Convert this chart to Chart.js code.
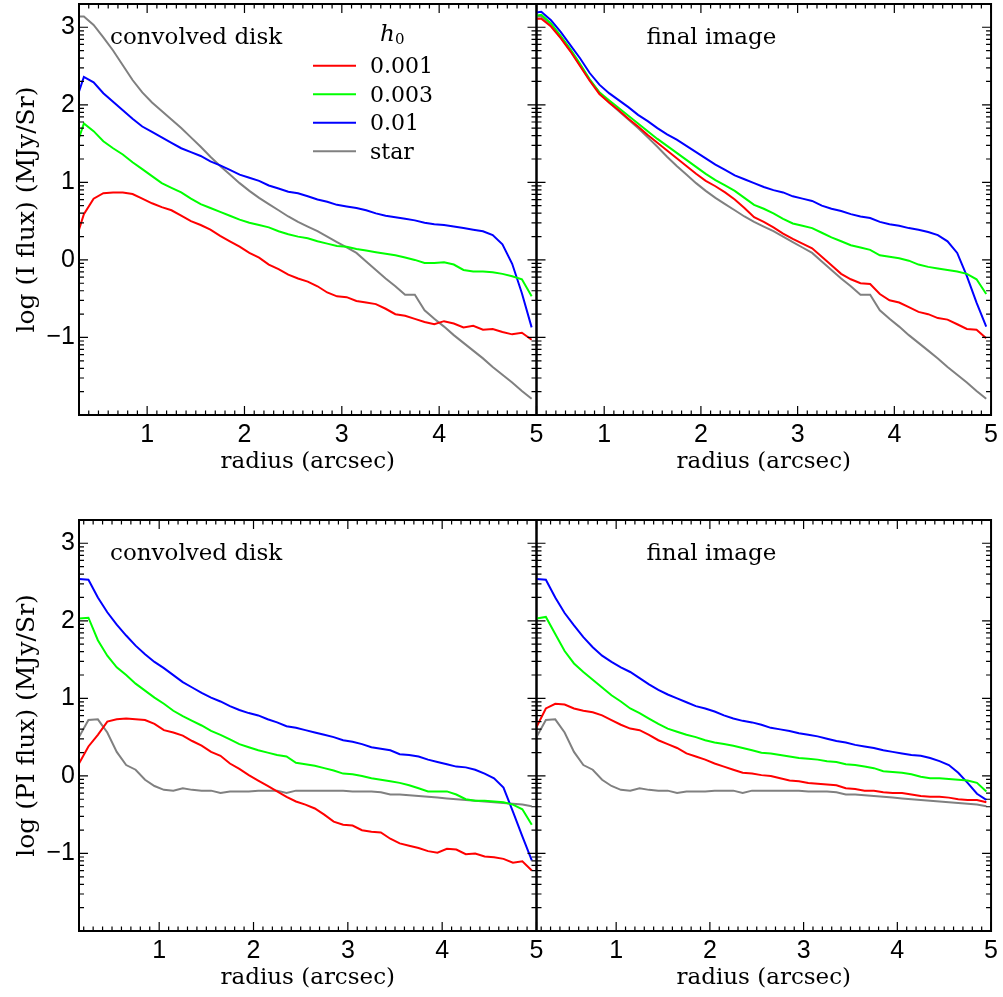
<!DOCTYPE html>
<html>
<head>
<meta charset="utf-8">
<script src="https://cdn.jsdelivr.net/npm/chart.js"></script>
<style>
  body { margin: 0; background: #fff; }
  #wrap { position: relative; width: 1003px; height: 997px; background: #fff; }
  canvas { position: absolute; }
</style>
</head>
<body>
<div id="wrap">
  <canvas id="tl" width="570" height="476" style="left:0px;top:0px"></canvas>
  <canvas id="bl" width="570" height="476" style="left:0px;top:516px"></canvas>
  <canvas id="tr" width="503" height="476" style="left:500px;top:0px"></canvas>
  <canvas id="br" width="503" height="476" style="left:500px;top:516px"></canvas>
</div>
<script>
// radius grids (arcsec)
const radiusTop = [0.25,0.35,0.45,0.55,0.65,0.75,0.85,0.95,1.05,1.15,1.25,1.35,1.45,1.55,1.65,1.75,1.85,1.95,2.05,2.15,
  2.25,2.35,2.45,2.55,2.65,2.75,2.85,2.95,3.05,3.15,3.25,3.35,3.45,3.55,3.65,3.75,3.85,3.95,4.05,4.15,
  4.25,4.35,4.45,4.55,4.65,4.75,4.85,4.95];
const radiusBottom = [0.15,0.25,0.35,0.45,0.55,0.65,0.75,0.85,0.95,1.05,1.15,1.25,1.35,1.45,1.55,1.65,1.75,1.85,1.95,2.05,
  2.15,2.25,2.35,2.45,2.55,2.65,2.75,2.85,2.95,3.05,3.15,3.25,3.35,3.45,3.55,3.65,3.75,3.85,3.95,4.05,
  4.15,4.25,4.35,4.45,4.55,4.65,4.75,4.85,4.95];

const seriesLabels = ['0.001', '0.003', '0.01', 'star'];
const seriesColors = ['#ff0000', '#00ff00', '#0000ff', '#808080'];

// log I flux, convolved disk
const iConv001 = [0.19,0.59,0.79,0.86,0.87,0.87,0.85,0.79,0.73,0.68,0.64,0.57,0.50,0.45,0.39,0.31,0.24,0.17,0.09,0.03,
  -0.06,-0.12,-0.19,-0.24,-0.28,-0.34,-0.42,-0.47,-0.48,-0.53,-0.55,-0.57,-0.63,-0.70,-0.72,-0.76,-0.80,-0.83,-0.79,-0.82,
  -0.87,-0.85,-0.90,-0.89,-0.93,-0.96,-0.94,-1.03];
const iConv003 = [1.38,1.76,1.66,1.53,1.44,1.36,1.26,1.17,1.08,0.99,0.93,0.87,0.79,0.72,0.67,0.62,0.57,0.52,0.48,0.45,
  0.42,0.37,0.33,0.30,0.28,0.24,0.21,0.18,0.17,0.14,0.12,0.10,0.08,0.06,0.03,0.00,-0.04,-0.04,-0.03,-0.06,
  -0.13,-0.15,-0.15,-0.16,-0.18,-0.21,-0.25,-0.47];
const iConv01 = [1.98,2.36,2.29,2.15,2.04,1.93,1.82,1.72,1.65,1.58,1.51,1.44,1.39,1.34,1.27,1.22,1.16,1.10,1.06,1.02,
  0.96,0.92,0.88,0.86,0.82,0.78,0.75,0.71,0.69,0.67,0.64,0.60,0.57,0.55,0.53,0.51,0.48,0.46,0.45,0.43,
  0.41,0.39,0.37,0.32,0.20,-0.05,-0.43,-0.87];
const iStar = [3.14,3.14,3.03,2.87,2.70,2.51,2.32,2.16,2.03,1.92,1.81,1.70,1.58,1.46,1.33,1.21,1.10,0.99,0.89,0.80,
  0.72,0.64,0.56,0.49,0.43,0.37,0.30,0.23,0.16,0.09,-0.02,-0.13,-0.24,-0.34,-0.45,-0.45,-0.65,-0.76,-0.86,-0.97,
  -1.07,-1.17,-1.27,-1.38,-1.48,-1.58,-1.69,-1.79];

// log I flux, final image
const iFinal001 = [3.11,3.11,3.01,2.86,2.69,2.50,2.31,2.14,2.03,1.93,1.82,1.72,1.61,1.51,1.41,1.31,1.21,1.11,1.02,0.95,
  0.87,0.78,0.67,0.55,0.49,0.42,0.34,0.27,0.21,0.15,0.04,-0.07,-0.18,-0.25,-0.30,-0.31,-0.44,-0.52,-0.55,-0.61,
  -0.67,-0.70,-0.75,-0.77,-0.83,-0.89,-0.90,-1.01];
const iFinal003 = [3.14,3.16,3.05,2.89,2.72,2.53,2.33,2.16,2.06,1.96,1.86,1.76,1.66,1.56,1.47,1.38,1.29,1.20,1.11,1.03,
  0.96,0.89,0.80,0.71,0.66,0.60,0.53,0.47,0.44,0.41,0.35,0.29,0.24,0.19,0.16,0.13,0.06,0.04,0.02,-0.01,
  -0.06,-0.09,-0.11,-0.13,-0.15,-0.18,-0.25,-0.44];
const iFinal01 = [3.18,3.20,3.09,2.94,2.77,2.60,2.41,2.26,2.15,2.06,1.97,1.87,1.79,1.70,1.62,1.55,1.47,1.39,1.31,1.23,
  1.16,1.09,1.04,0.99,0.94,0.90,0.87,0.82,0.79,0.76,0.70,0.66,0.63,0.59,0.56,0.54,0.49,0.46,0.44,0.41,
  0.39,0.36,0.32,0.24,0.09,-0.21,-0.55,-0.86];

// log PI flux, convolved disk
const piConv001 = [0.16,0.38,0.53,0.70,0.73,0.74,0.73,0.72,0.67,0.59,0.56,0.52,0.45,0.39,0.31,0.26,0.16,0.09,0.01,-0.06,
  -0.13,-0.20,-0.27,-0.33,-0.37,-0.42,-0.50,-0.59,-0.63,-0.64,-0.70,-0.72,-0.73,-0.81,-0.87,-0.90,-0.93,-0.97,-0.99,-0.94,
  -0.95,-1.01,-1.00,-1.04,-1.05,-1.07,-1.12,-1.10,-1.22];
const piConv003 = [2.03,2.04,1.75,1.55,1.40,1.30,1.19,1.10,1.01,0.93,0.84,0.77,0.71,0.65,0.58,0.53,0.47,0.41,0.37,0.33,
  0.30,0.27,0.25,0.17,0.15,0.13,0.10,0.07,0.03,0.02,0.00,-0.03,-0.05,-0.07,-0.09,-0.12,-0.16,-0.20,-0.20,-0.20,
  -0.24,-0.30,-0.32,-0.32,-0.33,-0.34,-0.37,-0.43,-0.63];
const piConv01 = [2.54,2.53,2.30,2.11,1.95,1.81,1.68,1.57,1.47,1.39,1.30,1.21,1.14,1.07,1.01,0.96,0.90,0.85,0.81,0.78,
  0.73,0.69,0.64,0.62,0.59,0.56,0.53,0.50,0.46,0.44,0.41,0.37,0.35,0.33,0.28,0.27,0.25,0.21,0.18,0.15,
  0.12,0.11,0.08,0.03,-0.03,-0.15,-0.46,-0.78,-1.09];
const piStar = [0.50,0.72,0.73,0.56,0.31,0.14,0.08,-0.05,-0.13,-0.18,-0.19,-0.16,-0.18,-0.19,-0.19,-0.22,-0.20,-0.20,-0.20,-0.19,
  -0.19,-0.19,-0.22,-0.19,-0.19,-0.19,-0.19,-0.19,-0.19,-0.20,-0.20,-0.20,-0.21,-0.24,-0.24,-0.25,-0.26,-0.27,-0.28,-0.29,
  -0.30,-0.31,-0.32,-0.33,-0.34,-0.35,-0.36,-0.37,-0.39];

// log PI flux, final image
const piFinal001 = [0.63,0.87,0.93,0.92,0.87,0.84,0.82,0.78,0.72,0.66,0.61,0.59,0.53,0.46,0.41,0.36,0.29,0.25,0.21,0.16,
  0.12,0.08,0.04,0.03,0.01,0.00,-0.03,-0.06,-0.07,-0.09,-0.10,-0.11,-0.12,-0.16,-0.17,-0.19,-0.19,-0.21,-0.22,-0.22,
  -0.24,-0.26,-0.27,-0.27,-0.28,-0.30,-0.31,-0.31,-0.34];
const piFinal003 = [2.03,2.05,1.83,1.61,1.45,1.34,1.24,1.14,1.04,0.96,0.87,0.81,0.74,0.67,0.61,0.57,0.53,0.50,0.46,0.43,
  0.41,0.39,0.36,0.33,0.30,0.29,0.27,0.25,0.23,0.22,0.21,0.19,0.18,0.15,0.14,0.12,0.10,0.06,0.05,0.04,
  0.02,-0.01,-0.03,-0.03,-0.04,-0.05,-0.06,-0.09,-0.20];
const piFinal01 = [2.54,2.53,2.30,2.10,1.94,1.79,1.66,1.55,1.47,1.40,1.34,1.26,1.18,1.11,1.05,1.00,0.95,0.90,0.87,0.83,
  0.78,0.74,0.71,0.69,0.66,0.62,0.60,0.58,0.55,0.53,0.51,0.48,0.45,0.43,0.40,0.38,0.36,0.33,0.31,0.29,
  0.27,0.26,0.23,0.19,0.14,0.04,-0.09,-0.23,-0.31];

const xTickValues = [1, 2, 3, 4, 5];
const yTickValues = [-1, 0, 1, 2, 3];

const serif = 'DejaVu Serif';
const sans = 'Liberation Sans';

// frame plus inward ticks (linear minor on x, log-style minor on y)
const frameTicks = {
  id: 'frameTicks',
  afterDatasetsDraw(chart) {
    const { ctx, chartArea: a, scales } = chart;
    const x = scales.x, y = scales.y;
    ctx.save();
    ctx.strokeStyle = '#000';
    ctx.lineWidth = 1.2;
    ctx.beginPath();
    for (let k = Math.ceil(x.min * 10 - 1e-6); k <= Math.floor(x.max * 10 + 1e-6); k++) {
      const px = x.getPixelForValue(k / 10);
      const len = k % 10 === 0 ? 9 : 4.5;
      ctx.moveTo(px, a.bottom); ctx.lineTo(px, a.bottom - len);
      ctx.moveTo(px, a.top); ctx.lineTo(px, a.top + len);
    }
    for (let n = Math.floor(y.min); n <= Math.ceil(y.max); n++) {
      for (let k = 1; k <= 9; k++) {
        const v = n + Math.log10(k);
        if (v < y.min || v > y.max) continue;
        const py = y.getPixelForValue(v);
        const len = k === 1 ? 9 : 5;
        ctx.moveTo(a.left, py); ctx.lineTo(a.left + len, py);
        ctx.moveTo(a.right, py); ctx.lineTo(a.right - len, py);
      }
    }
    ctx.stroke();
    ctx.lineWidth = 2;
    ctx.strokeRect(a.left, a.top, a.right - a.left, a.bottom - a.top);
    ctx.restore();
  }
};

// panel caption and (optionally) the legend
const panelText = {
  id: 'panelText',
  afterDraw(chart, args, opts) {
    const { ctx, chartArea: a } = chart;
    ctx.save();
    ctx.fillStyle = '#000';
    ctx.textBaseline = 'alphabetic';
    ctx.textAlign = 'left';
    ctx.font = '23px "' + serif + '"';
    ctx.fillText(opts.text, a.left + opts.dx, a.top + 40);
    if (opts.legend) {
      ctx.font = 'italic 23px "' + serif + '"';
      ctx.fillText('h', a.left + 301, a.top + 36.5);
      ctx.font = '15px "' + serif + '"';
      ctx.fillText('0', a.left + 316, a.top + 40);
      chart.data.datasets.forEach((ds, i) => {
        const ly = a.top + 61.7 + i * 28.5;
        ctx.strokeStyle = ds.borderColor;
        ctx.lineWidth = 2;
        ctx.beginPath();
        ctx.moveTo(a.left + 234, ly);
        ctx.lineTo(a.left + 277, ly);
        ctx.stroke();
        ctx.font = '22px "' + serif + '"';
        ctx.fillText(ds.label, a.left + 291, ly + 7.5);
      });
    }
    ctx.restore();
  }
};

function minus(v) {
  return v < 0 ? '\u2212' + Math.abs(v) : String(v);
}

function makePanel(id, radius, values, cfg) {
  const datasets = values.map((vals, i) => ({
    label: seriesLabels[i],
    data: radius.map((r, j) => ({ x: r, y: vals[j] })),
    borderColor: seriesColors[i],
    borderWidth: 2,
    pointRadius: 0,
    tension: 0,
    fill: false
  }));
  new Chart(document.getElementById(id), {
    type: 'line',
    data: { datasets: datasets },
    plugins: [frameTicks, panelText],
    options: {
      responsive: false,
      animation: false,
      layout: { padding: cfg.padding },
      plugins: {
        legend: { display: false },
        tooltip: { enabled: false },
        panelText: { text: cfg.text, dx: cfg.dx, legend: cfg.legend }
      },
      scales: {
        x: {
          type: 'linear',
          min: cfg.xmin,
          max: 5,
          grid: { display: false, drawTicks: false },
          border: { display: false },
          afterBuildTicks: s => { s.ticks = xTickValues.map(v => ({ value: v })); },
          afterFit: s => { s.height = 61; },
          ticks: {
            color: '#000',
            font: { family: sans, size: 25 },
            padding: 5,
            maxRotation: 0,
            autoSkip: false,
            callback: v => String(v)
          },
          title: {
            display: true,
            text: 'radius (arcsec)',
            color: '#000',
            font: { family: serif, size: 23 },
            padding: 0
          }
        },
        y: {
          type: 'linear',
          min: -2,
          max: 3.3,
          display: cfg.yAxis ? true : false,
          grid: { display: false, drawTicks: false },
          border: { display: false },
          afterBuildTicks: s => { s.ticks = yTickValues.map(v => ({ value: v })); },
          afterFit: s => {
            s.width = cfg.yAxis ? 79 : 0;
            s.paddingTop = 0;
            s.paddingBottom = 0;
          },
          ticks: {
            color: '#000',
            font: { family: sans, size: 25 },
            padding: 4,
            callback: v => minus(v)
          },
          title: {
            display: true,
            text: cfg.ytitle || '',
            color: '#000',
            font: { family: serif, size: 25 },
            padding: { top: 12, bottom: 0 }
          }
        }
      }
    }
  });
}

makePanel('tl', radiusTop, [iConv001, iConv003, iConv01, iStar], {
  xmin: 0.3, yAxis: true, ytitle: 'log (I flux) (MJy/Sr)', text: 'convolved disk', dx: 31, legend: true,
  padding: { left: 0, right: 33.5, top: 4, bottom: 0 }
});
makePanel('tr', radiusTop, [iFinal001, iFinal003, iFinal01, iStar], {
  xmin: 0.3, yAxis: false, text: 'final image', dx: 110, legend: false,
  padding: { left: 36.5, right: 11, top: 4, bottom: 0 }
});
makePanel('bl', radiusBottom, [piConv001, piConv003, piConv01, piStar], {
  xmin: 0.15, yAxis: true, ytitle: 'log (PI flux) (MJy/Sr)', text: 'convolved disk', dx: 31, legend: false,
  padding: { left: 0, right: 33.5, top: 4, bottom: 0 }
});
makePanel('br', radiusBottom, [piFinal001, piFinal003, piFinal01, piStar], {
  xmin: 0.15, yAxis: false, text: 'final image', dx: 110, legend: false,
  padding: { left: 36.5, right: 11, top: 4, bottom: 0 }
});
</script>
</body>
</html>
